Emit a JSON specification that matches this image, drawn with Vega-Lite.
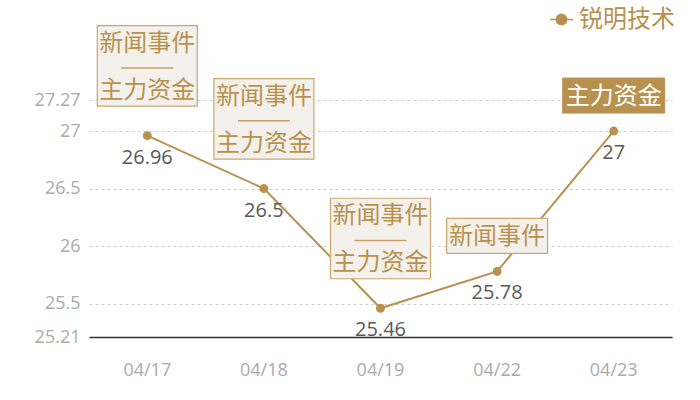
{
  "$schema": "https://vega.github.io/schema/vega-lite/v6.json",
  "width": 583,
  "height": 237,
  "autosize": {"type": "none"},
  "padding": {"left": 89, "top": 100, "right": 28, "bottom": 63},
  "background": "#ffffff",
  "config": {
    "font": "Noto Sans CJK SC",
    "view": {"stroke": null}
  },
  "data": {
    "values": [
      {"date": "04/17", "value": 26.96, "series": "锐明技术", "event": "新闻事件", "fund": "主力资金"},
      {"date": "04/18", "value": 26.5, "series": "锐明技术", "event": "新闻事件", "fund": "主力资金"},
      {"date": "04/19", "value": 25.46, "series": "锐明技术", "event": "新闻事件", "fund": "主力资金"},
      {"date": "04/22", "value": 25.78, "series": "锐明技术", "event": "新闻事件", "fund": null},
      {"date": "04/23", "value": 27.0, "series": "锐明技术", "event": null, "fund": "主力资金"}
    ]
  },
  "encoding": {
    "x": {
      "field": "date",
      "type": "nominal",
      "sort": null,
      "axis": {
        "title": null,
        "labelAngle": 0,
        "labelFont": "Open Sans",
        "labelFontSize": 18,
        "labelColor": "#aaaaaa",
        "labelPadding": 24,
        "ticks": false,
        "tickSize": 0,
        "domainColor": "#333333",
        "domainWidth": 1.5,
        "grid": false
      }
    },
    "y": {
      "field": "value",
      "type": "quantitative",
      "scale": {"domain": [25.21, 27.27], "nice": false, "zero": false},
      "axis": {
        "title": null,
        "values": [25.21, 25.5, 26, 26.5, 27, 27.27],
        "labelExpr": "'' + datum.value",
        "labelFont": "Open Sans",
        "labelFontSize": 18,
        "labelColor": "#aaaaaa",
        "labelPadding": 9,
        "ticks": false,
        "tickSize": 0,
        "domain": false,
        "grid": true,
        "gridColor": "#cccccc",
        "gridDash": [3, 3],
        "gridWidth": 1
      }
    }
  },
  "layer": [
    {
      "mark": {"type": "line", "strokeWidth": 2, "color": "#b8914f"},
      "encoding": {
        "color": {
          "field": "series",
          "type": "nominal",
          "scale": {"range": ["#b8914f"]},
          "legend": {
            "title": null,
            "orient": "none",
            "legendX": 460,
            "legendY": -93,
            "padding": 0,
            "symbolType": "M-1,0H1M-0.45,0A0.45,0.45 0 1,0 0.45,0A0.45,0.45 0 1,0 -0.45,0Z",
            "symbolSize": 529,
            "symbolFillColor": "#b8914f",
            "symbolStrokeColor": "#b8914f",
            "symbolStrokeWidth": 1.5,
            "labelFontSize": 24,
            "labelColor": "#b8914f",
            "labelOffset": 5,
            "labelLimit": 200
          }
        }
      }
    },
    {
      "mark": {"type": "point", "filled": true, "size": 80, "color": "#b8914f", "opacity": 1}
    },
    {
      "mark": {"type": "text", "dy": 22, "font": "Open Sans", "fontSize": 20, "color": "#595959", "baseline": "middle", "align": "center"},
      "encoding": {"text": {"field": "value", "type": "quantitative", "format": "~g"}}
    },
    {
      "transform": [{"filter": "datum.event && datum.fund"}],
      "layer": [
        {
          "mark": {"type": "bar", "width": 100, "yOffset": -110, "y2Offset": -29.5, "fill": "#f4f1ec", "stroke": "#c9a66e", "strokeWidth": 1.2},
          "encoding": {"y2": {"field": "value"}}
        },
        {
          "mark": {"type": "bar", "width": 52, "yOffset": -68.5, "y2Offset": -67, "fill": "#c4a068", "stroke": null},
          "encoding": {"y2": {"field": "value"}}
        },
        {
          "mark": {"type": "text", "dy": -92, "fontSize": 24, "color": "#b8914f", "baseline": "middle", "align": "center"},
          "encoding": {"text": {"field": "event"}}
        },
        {
          "mark": {"type": "text", "dy": -45, "fontSize": 24, "color": "#b8914f", "baseline": "middle", "align": "center"},
          "encoding": {"text": {"field": "fund"}}
        }
      ]
    },
    {
      "transform": [{"filter": "datum.event && !datum.fund"}],
      "layer": [
        {
          "mark": {"type": "bar", "width": 101, "yOffset": -53, "y2Offset": -18, "fill": "#f4f1ec", "stroke": "#c9a66e", "strokeWidth": 1.2},
          "encoding": {"y2": {"field": "value"}}
        },
        {
          "mark": {"type": "text", "dy": -34, "fontSize": 24, "color": "#b8914f", "baseline": "middle", "align": "center"},
          "encoding": {"text": {"field": "event"}}
        }
      ]
    },
    {
      "transform": [{"filter": "!datum.event && datum.fund"}],
      "layer": [
        {
          "mark": {"type": "bar", "width": 102, "yOffset": -53, "y2Offset": -18, "fill": "#b8914f", "stroke": "#b8914f", "strokeWidth": 1},
          "encoding": {"y2": {"field": "value"}}
        },
        {
          "mark": {"type": "text", "dy": -34, "fontSize": 24, "color": "#ffffff", "baseline": "middle", "align": "center"},
          "encoding": {"text": {"field": "fund"}}
        }
      ]
    }
  ]
}
